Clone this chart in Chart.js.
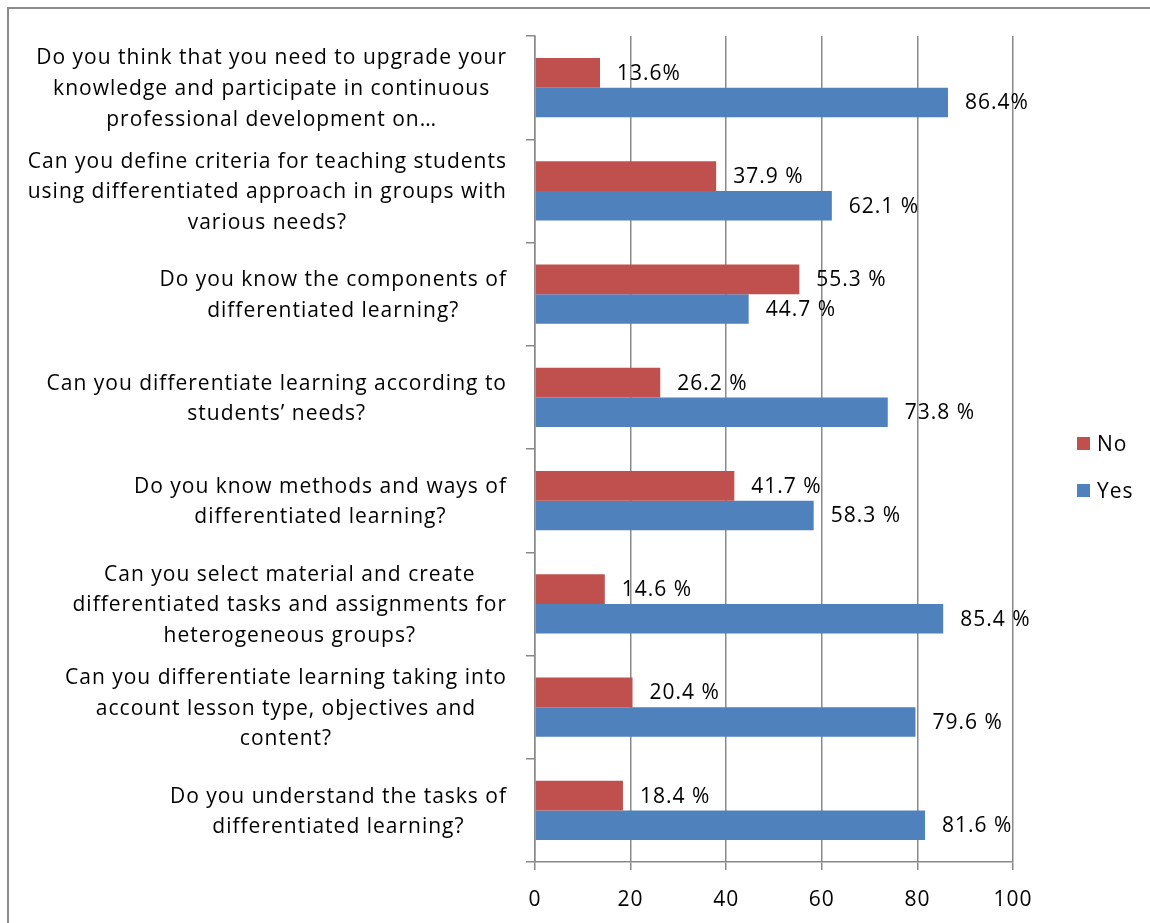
<!DOCTYPE html>
<html><head><meta charset="utf-8">
<script src="https://cdn.jsdelivr.net/npm/chart.js@4"></script>
<style>html,body{margin:0;padding:0;background:#fff;overflow:hidden}</style>
</head><body>
<canvas id="c" width="1150" height="923"></canvas>
<script>
const categories = [
 ["Do you think that you need to upgrade your","knowledge and participate in continuous","professional development on…"],
 ["Can you define criteria for teaching students","using differentiated approach in groups with","various needs?"],
 ["Do you know the components of","differentiated learning?"],
 ["Can you differentiate learning according to","students’ needs?"],
 ["Do you know methods and ways of","differentiated learning?"],
 ["Can you select material and create","differentiated tasks and assignments for","heterogeneous groups?"],
 ["Can you differentiate learning taking into","account lesson type, objectives and","content?"],
 ["Do you understand the tasks of","differentiated learning?"]
];
const seriesNames = ["No","Yes"];
const noValues  = [13.6,37.9,55.3,26.2,41.7,14.6,20.4,18.4];
const yesValues = [86.4,62.1,44.7,73.8,58.3,85.4,79.6,81.6];
const noLabels  = ["13.6%","37.9 %","55.3 %","26.2 %","41.7 %","14.6 %","20.4 %","18.4 %"];
const yesLabels = ["86.4%","62.1 %","44.7 %","73.8 %","58.3 %","85.4 %","79.6 %","81.6 %"];
const xTickValues = [0,20,40,60,80,100];

const FONT_FAMILY = '"Open Sans", "Liberation Sans", sans-serif';
const FONT_SIZE = 21;
const SPACING = '1px';
const LINE_H = 30.7;
const GRID = '#898989';

const frame = {
  id:'frame',
  beforeDraw(chart){
    const c = chart.ctx;
    c.fillStyle='#fff'; c.fillRect(0,0,chart.width,chart.height);
    c.strokeStyle='#8c8c8c'; c.lineWidth=2;
    c.strokeRect(8,8,chart.width+20,chart.height+20);
    c.letterSpacing = SPACING;
  }
};

const yLabels = {
  id:'yLabels',
  afterDraw(chart){
    const c = chart.ctx, ys = chart.scales.y;
    const rightEdge = ys.right - 9 - 19;
    c.save();
    c.letterSpacing = SPACING;
    c.font = FONT_SIZE + 'px ' + FONT_FAMILY;
    c.fillStyle = '#000';
    c.textAlign = 'center';
    c.textBaseline = 'middle';
    chart.data.labels.forEach((lines,i)=>{
      const cy = ys.getPixelForValue(i);
      const w = Math.max(...lines.map(l=>c.measureText(l).width));
      const cx = rightEdge - w/2;
      const y0 = cy - (lines.length-1)/2*LINE_H + 1.5;
      lines.forEach((l,k)=>c.fillText(l, cx, y0 + k*LINE_H));
    });
    c.restore();
  }
};

const dataLabels = {
  id:'dataLabels',
  afterDatasetsDraw(chart){
    const c = chart.ctx;
    c.save();
    c.letterSpacing = SPACING;
    c.font = FONT_SIZE + 'px ' + FONT_FAMILY;
    c.fillStyle = '#000';
    c.textAlign = 'left';
    c.textBaseline = 'middle';
    chart.data.datasets.forEach((ds,di)=>{
      const meta = chart.getDatasetMeta(di);
      meta.data.forEach((el,i)=>{
        c.fillText(ds.valueLabels[i], el.x + 17, el.y + 1);
      });
    });
    c.restore();
  }
};

const legendPlugin = {
  id:'customLegend',
  afterDraw(chart){
    const c = chart.ctx;
    c.save();
    c.letterSpacing = SPACING;
    c.font = FONT_SIZE + 'px ' + FONT_FAMILY;
    c.textAlign='left'; c.textBaseline='middle';
    chart.data.datasets.forEach((ds,i)=>{
      const cy = 445 + i*47;
      c.fillStyle = ds.backgroundColor;
      c.fillRect(1077, cy-8, 13, 13);
      c.fillStyle = '#000';
      c.fillText(ds.label, 1097, cy);
    });
    c.restore();
  }
};

new Chart(document.getElementById('c'), {
  type:'bar',
  data:{
    labels: categories,
    datasets:[
      {label:seriesNames[0], data:noValues, valueLabels:noLabels, backgroundColor:'#C0504D', borderWidth:0},
      {label:seriesNames[1], data:yesValues, valueLabels:yesLabels, backgroundColor:'#4F81BD', borderWidth:0}
    ]
  },
  options:{
    indexAxis:'y',
    responsive:false,
    animation:false,
    events:[],
    layout:{padding:{top:36,right:137,left:0,bottom:0}},
    datasets:{bar:{categoryPercentage:0.572,barPercentage:1.0}},
    plugins:{legend:{display:false},tooltip:{enabled:false}},
    scales:{
      x:{
        min:0,max:100,
        afterBuildTicks(s){ s.ticks = xTickValues.map(v=>({value:v})); },
        afterFit(s){ s.height = 61; },
        grid:{color:GRID,lineWidth:1.5,tickLength:8,drawTicks:true},
        border:{color:GRID,width:1.5},
        ticks:{color:'#000',font:{family:FONT_FAMILY,size:FONT_SIZE},padding:17,maxRotation:0}
      },
      y:{
        afterFit(s){ s.width = 535; },
        grid:{drawOnChartArea:false,drawTicks:true,tickLength:9,color:GRID,lineWidth:1.5,offset:true},
        border:{color:GRID,width:1.5},
        ticks:{display:false}
      }
    }
  },
  plugins:[frame,dataLabels,yLabels,legendPlugin]
});
</script>
</body></html>
